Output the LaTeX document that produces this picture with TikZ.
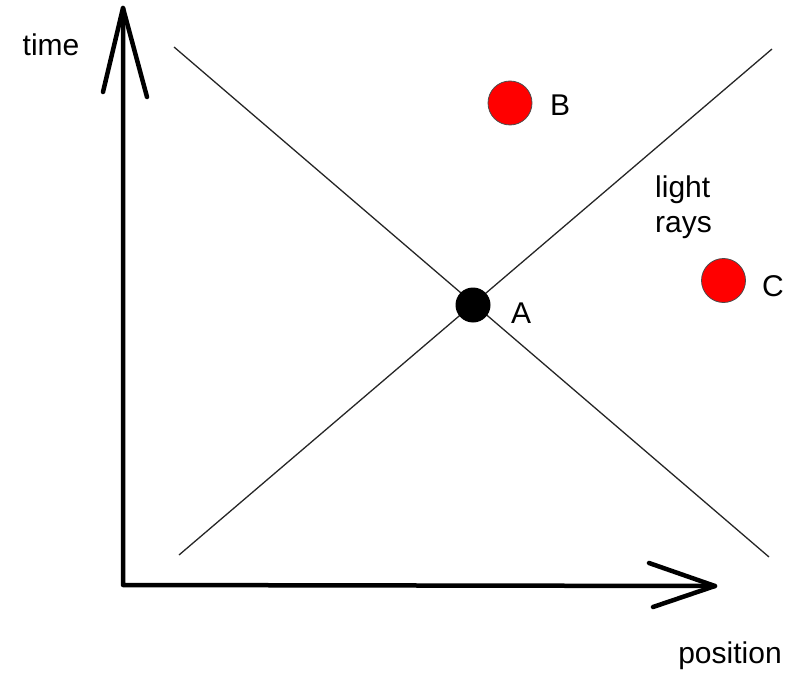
\documentclass[tikz,border=0pt]{standalone}
\usepackage{fontspec}
\setmainfont{Liberation Sans}
\begin{document}
\begin{tikzpicture}[x=1pt,y=-1pt,
  axis/.style={line width=4.5pt,line cap=round,line join=round},
  ray/.style={line width=1.3pt,draw=black!85},
  reddot/.style={circle,fill=red,draw=black!70,line width=0.8pt,minimum size=44pt,inner sep=0pt},
  blackdot/.style={circle,fill=black,minimum size=35pt,inner sep=0pt},
  lbl/.style={inner sep=0pt,font=\fontsize{30}{36}\selectfont}]
\useasboundingbox (0,0) rectangle (798,674);
% coordinates
\coordinate (origin) at (123,585);
\coordinate (ytip) at (123,8);
\coordinate (yl) at (103,92);
\coordinate (yr) at (147,97);
\coordinate (xtip) at (715,586);
\coordinate (xu) at (649,563);
\coordinate (xd) at (653,607);
\coordinate (r1a) at (174,47);
\coordinate (r1b) at (769,557);
\coordinate (r2a) at (179,555);
\coordinate (r2b) at (772,49);
% light rays
\draw[ray] (r1a) -- (r1b);
\draw[ray] (r2a) -- (r2b);
% axes
\draw[axis] (ytip) -- (origin) -- (xtip);
\draw[axis] (yl) -- (ytip) -- (yr);
\draw[axis] (xu) -- (xtip) -- (xd);
% events
\node[blackdot] (A) at (473,305) {};
\node[reddot] (B) at (510,103) {};
\node[reddot] (C) at (723.5,280.5) {};
% labels
\node[lbl,anchor=base] (tA) at (521,323) {A};
\node[lbl,anchor=base] (tB) at (560,116) {B};
\node[lbl,anchor=base] (tC) at (773,296) {C};
\node[lbl,anchor=base west] (tl) at (655,197) {light};
\node[lbl,anchor=base west] (tr) at (655,232) {rays};
\node[lbl,anchor=base] (tt) at (51,56) {time};
\node[lbl,anchor=base] (tp) at (730,663) {position};
\end{tikzpicture}
\end{document}
